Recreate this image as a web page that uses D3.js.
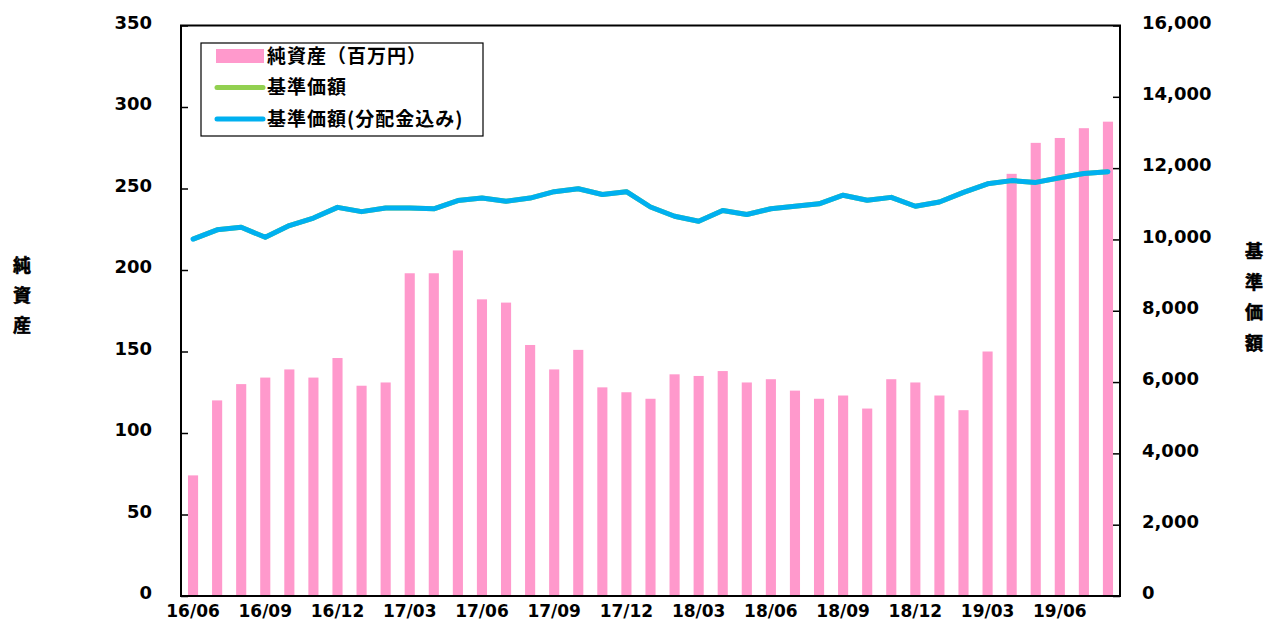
<!DOCTYPE html>
<html>
<head>
<meta charset="utf-8">
<script src="https://cdn.jsdelivr.net/npm/d3@7"></script>
<style>
body { margin: 0; background: #fff; }
svg { display: block; }
.ax text { font-family: "DejaVu Sans", Verdana, sans-serif; font-weight: bold; font-size: 18px; fill: #000; }
.jp { font-family: "Noto Sans CJK JP", sans-serif; font-weight: bold; }
</style>
</head>
<body>
<svg id="chart"></svg>
<script>
// monthly data 16/06 - 19/08
var months = ["16/06","16/07","16/08","16/09","16/10","16/11","16/12","17/01","17/02","17/03","17/04","17/05",
  "17/06","17/07","17/08","17/09","17/10","17/11","17/12","18/01","18/02","18/03","18/04","18/05",
  "18/06","18/07","18/08","18/09","18/10","18/11","18/12","19/01","19/02","19/03","19/04","19/05",
  "19/06","19/07","19/08"];
// net assets (million yen)
var netAssets = [74,120,130,134,139,134,146,129,131,198,198,212,
  182,180,154,139,151,128,125,121,136,135,138,131,
  133,126,121,123,115,133,131,123,114,150,259,278,
  281,287,291];
// NAV
var nav = [10010,10270,10340,10060,10390,10600,10900,10780,10880,10880,10860,11090,
  11160,11070,11160,11340,11420,11260,11340,10910,10650,10510,10810,10700,
  10860,10930,11000,11240,11100,11180,10930,11050,11320,11560,11650,11600,
  11730,11850,11900];
// NAV incl. distributions (no distributions paid, same as NAV)
var navDiv = nav.slice();
var leftTicks = [0,50,100,150,200,250,300,350];
var rightTicks = [0,2000,4000,6000,8000,10000,12000,14000,16000];

var W = 1266, H = 623;
var m = {left: 181, right: 146, top: 25.5, bottom: 27};
var iw = W - m.left - m.right, ih = H - m.top - m.bottom;

var svg = d3.select("#chart").attr("width", W).attr("height", H);
var g = svg.append("g").attr("transform", "translate(" + m.left + "," + m.top + ")");

var x = d3.scaleBand().domain(months).range([0, iw]).paddingInner(0.58).paddingOuter(0.29);
var yL = d3.scaleLinear().domain([0, 350]).range([ih, 0]);
var yR = d3.scaleLinear().domain([0, 16000]).range([ih, 0]);

// bars
g.selectAll("rect.bar").data(netAssets).enter().append("rect")
  .attr("class", "bar")
  .attr("x", function(d, i) { return x(months[i]); })
  .attr("y", function(d) { return yL(d); })
  .attr("width", x.bandwidth())
  .attr("height", function(d) { return ih - yL(d); })
  .attr("fill", "#ff99cc");

// axes
var axL = g.append("g").attr("class", "ax")
  .call(d3.axisLeft(yL).tickValues(leftTicks).tickSizeInner(-7).tickSizeOuter(0).tickPadding(29));
var axR = g.append("g").attr("class", "ax").attr("transform", "translate(" + iw + ",0)")
  .call(d3.axisRight(yR).tickValues(rightTicks).tickFormat(d3.format(",")).tickSizeInner(-7).tickSizeOuter(0).tickPadding(22));
var axB = g.append("g").attr("class", "ax").attr("transform", "translate(0," + ih + ")")
  .call(d3.axisBottom(x).tickValues(months.filter(function(d, i) { return i % 3 == 0; })).tickSize(0).tickPadding(9));
axB.selectAll("text").style("font-size", "17px");
axL.selectAll("text").attr("dy", "0.15em");
axR.selectAll("text").attr("dy", "0.15em");
[axL, axR, axB].forEach(function(a) {
  a.select(".domain").remove();
  a.selectAll("line").attr("stroke", "#000").attr("stroke-width", 1.5);
});

// frame
g.append("rect").attr("x", 0).attr("y", 0).attr("width", iw).attr("height", ih)
  .attr("fill", "none").attr("stroke", "#000").attr("stroke-width", 2);

// lines
var line = d3.line()
  .x(function(d, i) { return x(months[i]) + x.bandwidth() / 2; })
  .y(function(d) { return yR(d); });
g.append("path").datum(nav).attr("d", line).attr("fill", "none")
  .attr("stroke", "#92d050").attr("stroke-width", 5).attr("stroke-linejoin", "round");
g.append("path").datum(navDiv).attr("d", line).attr("fill", "none")
  .attr("stroke", "#00b0f0").attr("stroke-width", 5).attr("stroke-linejoin", "round").attr("stroke-linecap", "round");

// legend
var lg = svg.append("g").attr("transform", "translate(201,43)");
lg.append("rect").attr("width", 282).attr("height", 93).attr("fill", "#fff").attr("stroke", "#000").attr("stroke-width", 1.2);
var items = [
  {name: "純資産（百万円）", type: "bar", color: "#ff99cc"},
  {name: "基準価額", type: "line", color: "#92d050"},
  {name: "基準価額(分配金込み)", type: "line", color: "#00b0f0"}
];
items.forEach(function(it, i) {
  var cy = 13 + i * 31.5;
  if (it.type == "bar") {
    lg.append("rect").attr("x", 15).attr("y", cy - 7).attr("width", 48).attr("height", 14).attr("fill", it.color);
  } else {
    lg.append("line").attr("x1", 16).attr("x2", 62).attr("y1", cy).attr("y2", cy)
      .attr("stroke", it.color).attr("stroke-width", 5).attr("stroke-linecap", "round");
  }
  lg.append("text").attr("class", "jp").attr("x", 66).attr("y", cy).attr("dy", "0.36em")
    .style("font-size", "19px").style("letter-spacing", "1px").text(it.name);
});

// vertical axis titles
"純資産".split("").forEach(function(c, i) {
  svg.append("text").attr("class", "jp").attr("x", 22).attr("y", 266 + i * 30).attr("dy", "0.36em")
    .attr("text-anchor", "middle").style("font-size", "18px")
    .attr("stroke", "#000").attr("stroke-width", 0.6).text(c);
});
"基準価額".split("").forEach(function(c, i) {
  svg.append("text").attr("class", "jp").attr("x", 1254).attr("y", 252 + i * 30.5).attr("dy", "0.36em")
    .attr("text-anchor", "middle").style("font-size", "18px")
    .attr("stroke", "#000").attr("stroke-width", 0.6).text(c);
});
</script>
</body>
</html>
